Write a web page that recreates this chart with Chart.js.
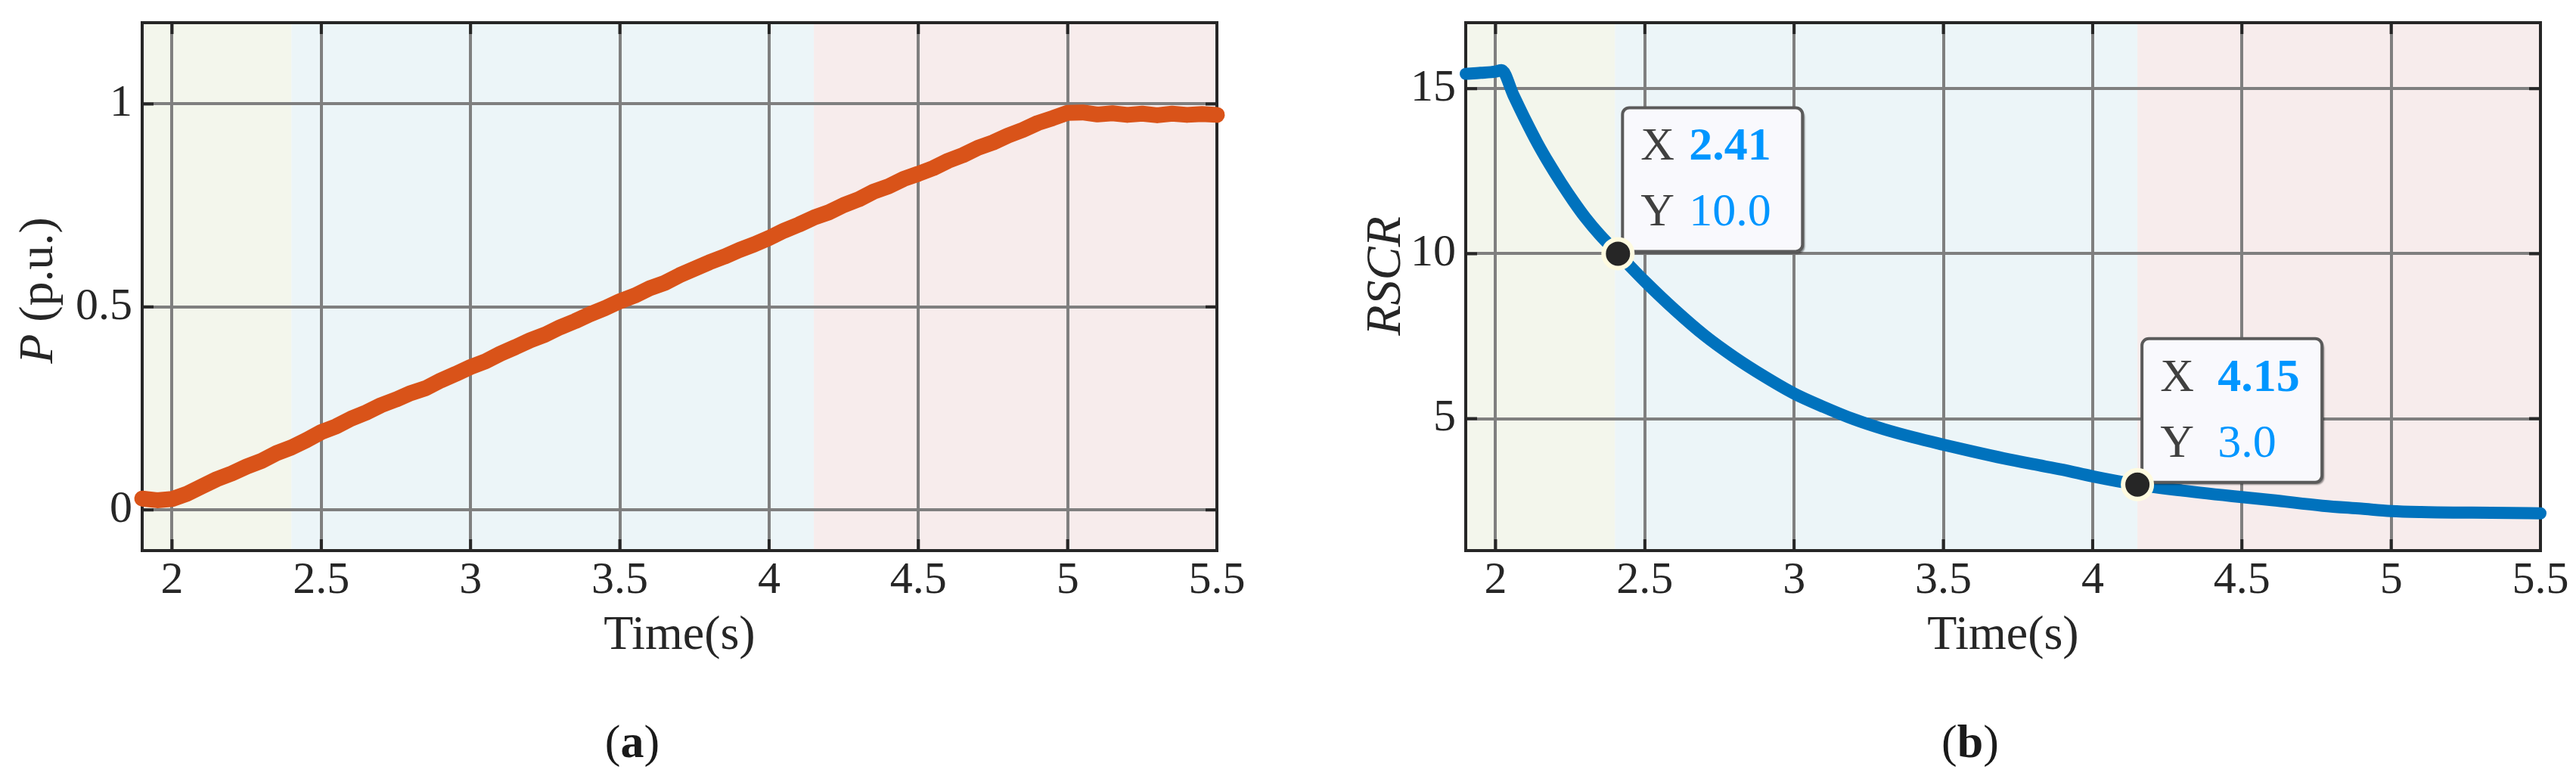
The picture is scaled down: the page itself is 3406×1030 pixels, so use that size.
<!DOCTYPE html>
<html>
<head>
<meta charset="utf-8">
<script src="https://cdn.jsdelivr.net/npm/chart.js@4.4.0/dist/chart.umd.min.js"></script>
<style>
  body { margin: 0; background: #fff; width: 3406px; height: 1030px; position: relative; overflow: hidden; font-family: "Liberation Serif", serif; }
  #chartA { position: absolute; left: 0; top: 0; }
  #chartB { position: absolute; left: 1700px; top: 0; }
  .cap { position: absolute; top: 940px; height: 80px; line-height: 80px; font-size: 62px; color: #1a1a1a; transform: translateX(-50%); }
</style>
</head>
<body>
<canvas id="chartA" width="1700" height="920"></canvas>
<canvas id="chartB" width="1706" height="920"></canvas>
<div class="cap" style="left:836px">(<b>a</b>)</div>
<div class="cap" style="left:2605px">(<b>b</b>)</div>
<script>
// data
const timeP = [1.90, 1.95, 2.00, 2.05, 2.10, 2.15, 2.20, 2.25, 2.30, 2.35, 2.40, 2.45, 2.50, 2.55, 2.60, 2.65, 2.70, 2.75, 2.80, 2.85,
               2.90, 2.95, 3.00, 3.05, 3.10, 3.15, 3.20, 3.25, 3.30, 3.35, 3.40, 3.45, 3.50, 3.55, 3.60, 3.65, 3.70, 3.75, 3.80, 3.85,
               3.90, 3.95, 4.00, 4.05, 4.10, 4.15, 4.20, 4.25, 4.30, 4.35, 4.40, 4.45, 4.50, 4.55, 4.60, 4.65, 4.70, 4.75, 4.80, 4.85,
               4.90, 4.95, 5.00, 5.05, 5.10, 5.15, 5.20, 5.25, 5.30, 5.35, 5.40, 5.45, 5.50];
const powerP = [0.028, 0.024, 0.027, 0.040, 0.058, 0.076, 0.090, 0.107, 0.121, 0.140, 0.154, 0.172, 0.192, 0.206, 0.225, 0.240, 0.258, 0.272, 0.288, 0.300,
                0.319, 0.335, 0.352, 0.366, 0.385, 0.401, 0.418, 0.432, 0.450, 0.465, 0.482, 0.497, 0.514, 0.528, 0.546, 0.559, 0.578, 0.594, 0.610, 0.624,
                0.640, 0.654, 0.670, 0.688, 0.703, 0.720, 0.733, 0.751, 0.765, 0.784, 0.797, 0.815, 0.828, 0.842, 0.860, 0.874, 0.892, 0.905, 0.922, 0.936,
                0.953, 0.965, 0.978, 0.979, 0.974, 0.977, 0.973, 0.976, 0.972, 0.976, 0.973, 0.975, 0.973];

const timeR = [1.90, 1.95, 2.00, 2.02, 2.06, 2.10, 2.14, 2.18, 2.22, 2.26, 2.30, 2.35, 2.41, 2.50, 2.60, 2.70, 2.80, 2.90, 3.00, 3.10,
               3.20, 3.30, 3.40, 3.50, 3.60, 3.70, 3.80, 3.90, 4.00, 4.15, 4.30, 4.50, 4.60, 4.77, 4.90, 5.00, 5.10, 5.27, 5.40, 5.50];
const rscr = [15.45, 15.48, 15.52, 15.56, 14.80, 14.05, 13.35, 12.72, 12.14, 11.60, 11.10, 10.56, 10.00, 9.16, 8.30, 7.52, 6.86, 6.28, 5.76, 5.35,
              4.98, 4.68, 4.43, 4.21, 4.00, 3.80, 3.62, 3.45, 3.25, 3.00, 2.82, 2.62, 2.53, 2.36, 2.27, 2.20, 2.17, 2.15, 2.14, 2.13];

const markerT = [2.41, 4.15];
const markerR = [10.0, 3.0];

const xTicks = [2, 2.5, 3, 3.5, 4, 4.5, 5, 5.5];
const pTicks = [0, 0.5, 1];
const rTicks = [5, 10, 15];

const stageStart = [1.9, 2.4, 4.15];
const stageEnd = [2.4, 4.15, 5.5];
const stageColors = ['#f3f6ec', '#ecf5f8', '#f7ecec'];

const FONT = 'Liberation Serif';
const INK = '#262626';
// horizontal offset of the value text inside each data tip
const tipValueX = [88, 100];

// background bands for the three stages
const stagePlugin = {
    id: 'stages',
    beforeDraw(chart) {
        const { ctx, chartArea: a, scales: { x } } = chart;
        ctx.save();
        stageStart.forEach((s, i) => {
            const x0 = x.getPixelForValue(s);
            const x1 = x.getPixelForValue(stageEnd[i]);
            ctx.fillStyle = stageColors[i];
            ctx.fillRect(x0, a.top, x1 - x0, a.bottom - a.top);
        });
        ctx.restore();
    }
};

// box around the axes plus inward tick marks
const framePlugin = {
    id: 'frame',
    beforeDatasetsDraw(chart) {
        const { ctx, chartArea: a, scales: { x, y } } = chart;
        const len = 15;
        ctx.save();
        ctx.strokeStyle = INK;
        ctx.lineWidth = 4;
        ctx.beginPath();
        x.ticks.forEach(t => {
            const px = x.getPixelForValue(t.value);
            ctx.moveTo(px, a.top); ctx.lineTo(px, a.top + len);
            ctx.moveTo(px, a.bottom); ctx.lineTo(px, a.bottom - len);
        });
        y.ticks.forEach(t => {
            const py = y.getPixelForValue(t.value);
            ctx.moveTo(a.left, py); ctx.lineTo(a.left + len, py);
            ctx.moveTo(a.right, py); ctx.lineTo(a.right - len, py);
        });
        ctx.stroke();
        ctx.strokeRect(a.left, a.top, a.right - a.left, a.bottom - a.top);
        ctx.restore();
    }
};

// rotated y title, parts can mix italic and upright
const yTitlePlugin = {
    id: 'yTitle',
    afterDraw(chart, args, opts) {
        const { ctx, chartArea: a } = chart;
        ctx.save();
        ctx.translate(opts.x, (a.top + a.bottom) / 2 + opts.dy);
        ctx.rotate(-Math.PI / 2);
        ctx.fillStyle = INK;
        ctx.textBaseline = 'middle';
        let total = 0;
        opts.parts.forEach(p => {
            ctx.font = `${p.style} ${opts.size}px "${FONT}"`;
            total += ctx.measureText(p.text).width;
        });
        let cx = -total / 2;
        opts.parts.forEach(p => {
            ctx.font = `${p.style} ${opts.size}px "${FONT}"`;
            ctx.fillText(p.text, cx, 0);
            cx += ctx.measureText(p.text).width;
        });
        ctx.restore();
    }
};

// data tips next to the marked points (drawn after the curve, before the markers)
const tipPlugin = {
    id: 'tips',
    afterDatasetDraw(chart, args) {
        if (!chart.options.plugins.tips || args.index !== 1) return;
        const { ctx, scales: { x, y } } = chart;
        const w = 238, h = 190, r = 9;
        markerT.forEach((t, i) => {
            const px = x.getPixelForValue(t);
            const py = y.getPixelForValue(markerR[i]);
            const left = px + 6, top = py - 3 - h;
            ctx.save();
            ctx.shadowColor = 'rgba(0,0,0,0.45)';
            ctx.shadowOffsetX = 3;
            ctx.shadowOffsetY = 3;
            ctx.shadowBlur = 2;
            ctx.beginPath();
            ctx.roundRect(left, top, w, h, r);
            ctx.fillStyle = '#f9f9fd';
            ctx.fill();
            ctx.shadowColor = 'transparent';
            ctx.lineWidth = 4;
            ctx.strokeStyle = '#5a5a5a';
            ctx.stroke();
            ctx.textBaseline = 'alphabetic';
            ctx.font = `62px "${FONT}"`;
            ctx.fillStyle = '#404040';
            ctx.fillText('X', left + 24, top + 69);
            ctx.fillText('Y', left + 24, top + 156);
            ctx.fillStyle = '#0096ff';
            ctx.font = `bold 62px "${FONT}"`;
            ctx.fillText(t.toFixed(2), left + tipValueX[i], top + 69);
            ctx.font = `62px "${FONT}"`;
            ctx.fillText(markerR[i].toFixed(1), left + tipValueX[i], top + 156);
            ctx.restore();
        });
    }
};

function fixedScale(size, isX) {
    return function (scale) {
        if (isX) scale.height = size; else scale.width = size;
        scale.paddingTop = 0;
        scale.paddingBottom = 0;
        scale.paddingLeft = 0;
        scale.paddingRight = 0;
    };
}

function makeOptions(yMin, yMax, yTickVals, yWidth, rightPad, yTitle) {
    const tickFont = { family: FONT, size: 60 };
    const grid = { color: '#7f7f7f', lineWidth: 4, drawTicks: false };
    return {
        responsive: false,
        devicePixelRatio: 1,
        animation: false,
        events: [],
        layout: { padding: { top: 30, right: rightPad, left: 0, bottom: 0 } },
        scales: {
            x: {
                type: 'linear',
                min: 1.9,
                max: 5.5,
                grid: grid,
                border: { display: false },
                afterBuildTicks: s => { s.ticks = xTicks.map(v => ({ value: v })); },
                afterFit: fixedScale(192, true),
                ticks: { font: tickFont, color: INK, padding: 4, maxRotation: 0, callback: v => String(v) },
                title: { display: true, text: 'Time(s)', color: INK, font: { family: FONT, size: 64 }, padding: { top: 0, bottom: 40 } }
            },
            y: {
                type: 'linear',
                min: yMin,
                max: yMax,
                grid: grid,
                border: { display: false },
                afterBuildTicks: s => { s.ticks = yTickVals.map(v => ({ value: v })); },
                afterFit: fixedScale(yWidth, false),
                ticks: { font: tickFont, color: INK, padding: 13, callback: v => String(v) }
            }
        },
        plugins: {
            legend: { display: false },
            tooltip: { enabled: false },
            yTitle: yTitle
        }
    };
}

const chartA = new Chart(document.getElementById('chartA'), {
    type: 'line',
    data: {
        datasets: [{
            data: timeP.map((t, i) => ({ x: t, y: powerP[i] })),
            borderColor: '#d95319',
            borderWidth: 21,
            pointRadius: 0,
            tension: 0,
            borderJoinStyle: 'round',
            borderCapStyle: 'round',
            clip: false
        }]
    },
    options: makeOptions(-0.1, 1.2, pTicks, 188, 91,
        { x: 52, dy: 5, size: 64, parts: [{ text: 'P', style: 'italic' }, { text: ' (p.u.)', style: 'normal' }] }),
    plugins: [stagePlugin, framePlugin, yTitlePlugin]
});

const optionsB = makeOptions(1, 17, rTicks, 238, 47,
    { x: 134, dy: -14, size: 66, parts: [{ text: 'RSCR', style: 'italic' }] });
optionsB.plugins.tips = {};

const chartB = new Chart(document.getElementById('chartB'), {
    type: 'line',
    data: {
        datasets: [{
            data: markerT.map((t, i) => ({ x: t, y: markerR[i] })),
            showLine: false,
            pointRadius: 19,
            pointBorderWidth: 6,
            pointBackgroundColor: INK,
            pointBorderColor: '#fffbe0',
            clip: false
        }, {
            data: timeR.map((t, i) => ({ x: t, y: rscr[i] })),
            borderColor: '#0072bd',
            borderWidth: 16,
            pointRadius: 0,
            cubicInterpolationMode: 'monotone',
            borderJoinStyle: 'round',
            borderCapStyle: 'round',
            clip: false
        }]
    },
    options: optionsB,
    plugins: [stagePlugin, framePlugin, yTitlePlugin, tipPlugin]
});
</script>
</body>
</html>
